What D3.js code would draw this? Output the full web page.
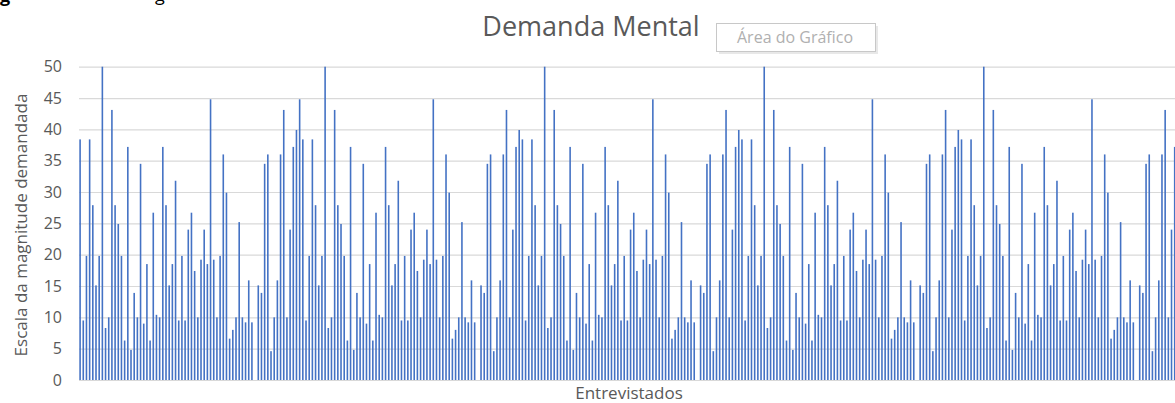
<!DOCTYPE html>
<html>
<head>
<meta charset="UTF-8">
<script src="https://d3js.org/d3.v7.min.js"></script>
<style>
  body { margin: 0; background: #fff; }
  text { font-family: "Open Sans", sans-serif; }
</style>
</head>
<body>
<svg></svg>

<script>
// valores (cada bloco = uma rodada de entrevistados)
var bloco1 = [38.4, 9.5, 19.8, 38.4, 27.9, 15.1, 19.8, 50, 8.3, 10,
  43.1, 27.9, 24.9, 19.8, 6.3, 37.2, 4.8, 13.9, 10, 34.5,
  9, 18.5, 6.3, 26.7, 10.4, 10, 37.2, 27.9, 15.1, 18.5,
  31.8, 9.5, 19.8, 9.5, 24, 26.7, 17.4, 10, 19.2, 24,
  18.5, 44.8, 19.2, 10, 19.8, 36, 29.9, 6.6, 8, 10,
  25.2, 10, 9.2, 15.9, 9.2, 0, 15.1, 13.9, 34.5, 36,
  4.6, 10, 15.9, 36, 43.1, 10, 24, 37.2, 39.9, 44.8];
var bloco2 = [38.4, 9.5, 19.8, 38.4, 27.9, 15.1, 19.8, 50, 8.3, 10,
  43.1, 27.9, 24.9, 19.8, 6.3, 37.2, 4.8, 13.9, 10, 34.5,
  9, 18.5, 6.3, 26.7, 10.4, 10, 37.2, 27.9, 15.1, 18.5,
  31.8, 9.5, 19.8, 9.5, 24, 26.7, 17.4, 10, 19.2, 24,
  18.5, 44.8, 19.2, 10, 19.8, 36, 29.9, 6.6, 8, 10,
  25.2, 10, 9.2, 15.9, 9.2, 0, 15.1, 13.9, 34.5, 36,
  4.6, 10, 15.9, 36, 43.1, 10, 24, 37.2, 39.9];
var bloco3 = [38.4, 9.5, 19.8, 38.4, 27.9, 15.1, 19.8, 50, 8.3, 10,
  43.1, 27.9, 24.9, 19.8, 6.3, 37.2, 4.8, 13.9, 10, 34.5,
  9, 18.5, 6.3, 26.7, 10.4, 10, 37.2, 27.9, 15.1, 18.5,
  31.8, 9.5, 19.8, 9.5, 24, 26.7, 17.4, 10, 19.2, 24,
  18.5, 44.8, 19.2, 10, 19.8, 36, 29.9, 6.6, 8, 10,
  25.2, 10, 9.2, 15.9, 9.2, 0, 15.1, 13.9, 34.5, 36,
  4.6, 10, 15.9, 36, 43.1, 10, 24, 37.2, 39.9];
var bloco4 = [38.4, 9.5, 19.8, 38.4, 27.9, 15.1, 19.8, 50, 8.3, 10,
  43.1, 27.9, 24.9, 19.8, 6.3, 37.2, 4.8, 13.9, 10, 34.5,
  9, 18.5, 6.3, 26.7, 10.4, 10, 37.2, 27.9, 15.1, 18.5,
  31.8, 9.5, 19.8, 9.5, 24, 26.7, 17.4, 10, 19.2, 24,
  18.5, 44.8, 19.2, 10, 19.8, 36, 29.9, 6.6, 8, 10,
  25.2, 10, 9.2, 15.9, 9.2, 0, 15.1, 13.9, 34.5, 36,
  4.6, 10, 15.9, 36, 43.1, 10, 24, 37.2, 39.9];
var bloco5 = [38.4, 9.5, 19.8, 38.4, 27.9, 15.1, 19.8, 50, 8.3, 10,
  43.1, 27.9, 24.9, 19.8, 6.3, 37.2, 4.8, 13.9, 10, 34.5,
  9, 18.5, 6.3, 26.7, 10.4, 10, 37.2, 27.9, 15.1, 18.5,
  31.8, 9.5, 19.8, 9.5, 24, 26.7, 17.4, 10, 19.2, 24,
  18.5, 44.8, 19.2, 10, 19.8, 36, 29.9, 6.6, 8, 10,
  25.2, 10, 9.2, 15.9, 9.2, 0, 15.1, 13.9, 34.5, 36,
  4.6, 10, 15.9, 36, 43.1, 10, 24, 37.2];

var yTicks = [0, 5, 10, 15, 20, 25, 30, 35, 40, 45, 50];

var demanda = bloco1.concat(bloco2, bloco3, bloco4, bloco5);

var width = 1175, height = 403;
var svg = d3.select("svg")
    .attr("width", width)
    .attr("height", height);

var step = 3.182;
var x0 = 78.5;
var plotLeft = 79;

var x = d3.scaleBand()
    .domain(d3.range(demanda.length))
    .range([x0, x0 + demanda.length * step])
    .paddingInner(0.5)
    .paddingOuter(0.25);

var y = d3.scaleLinear()
    .domain([0, 50])
    .range([380, 66.7]);

// pedaços de legenda cortados no topo da imagem
svg.append("text").attr("x", 0).attr("y", 2).text("g")
    .style("font-size", "18px").style("font-weight", "bold").attr("fill", "#000");
svg.append("text").attr("x", 155).attr("y", 1).text("g")
    .style("font-size", "18px").attr("fill", "#000");

// grade + rotulos do eixo y
var yAxis = svg.append("g")
    .attr("transform", "translate(" + plotLeft + ",0)")
    .call(d3.axisLeft(y).tickValues(yTicks).tickSize(-(width - plotLeft)).tickPadding(17));
yAxis.select(".domain").remove();
yAxis.selectAll(".tick line").attr("stroke", "#d9d9d9").attr("stroke-width", 1.2);
yAxis.selectAll(".tick text")
    .attr("fill", "#595959")
    .style("font-size", "16px")
    .style("font-family", "Open Sans");

// barras
svg.append("g")
  .selectAll("rect")
  .data(demanda)
  .enter()
  .append("rect")
    .attr("x", function(d, i) { return x(i); })
    .attr("y", function(d) { return y(d); })
    .attr("width", x.bandwidth())
    .attr("height", function(d) { return y(0) - y(d); })
    .attr("fill", "#4472c4");

// titulo
svg.append("text")
    .attr("x", 591).attr("y", 36)
    .attr("text-anchor", "middle")
    .attr("fill", "#595959")
    .style("font-size", "27px")
    .text("Demanda Mental");

// caixa "Área do Gráfico" (dica do Excel)
svg.append("rect")
    .attr("x", 719).attr("y", 26).attr("width", 159).attr("height", 28)
    .attr("fill", "#e8e8e8");
svg.append("rect")
    .attr("x", 716.5).attr("y", 23.5).attr("width", 159).attr("height", 28)
    .attr("fill", "#fff").attr("stroke", "#c8c8c8");
svg.append("text")
    .attr("x", 795).attr("y", 43)
    .attr("text-anchor", "middle")
    .attr("fill", "#b0b0b0")
    .style("font-size", "16px")
    .text("Área do Gráfico");

// titulos dos eixos
svg.append("text")
    .attr("transform", "translate(27,225) rotate(-90)")
    .attr("text-anchor", "middle")
    .attr("fill", "#595959")
    .style("font-size", "17px")
    .text("Escala da magnitude demandada");

svg.append("text")
    .attr("x", 629).attr("y", 399)
    .attr("text-anchor", "middle")
    .attr("fill", "#595959")
    .style("font-size", "17px")
    .text("Entrevistados");
</script>
</body>
</html>
